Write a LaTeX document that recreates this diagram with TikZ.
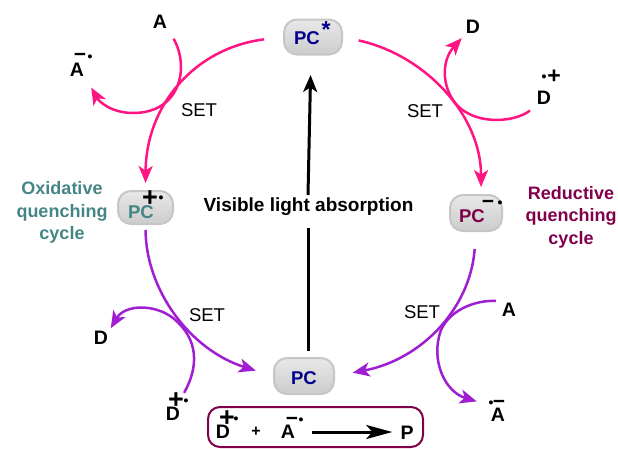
\documentclass[tikz,border=0pt]{standalone}
\usepackage{fontspec}
\setmainfont{Liberation Sans}
\usepackage{xcolor}
\usetikzlibrary{arrows.meta,positioning}
\definecolor{PCnavy}{RGB}{0,0,139}
\definecolor{PCpink}{RGB}{255,20,130}
\definecolor{PCpurple}{RGB}{160,30,210}
\definecolor{PCteal}{RGB}{70,133,133}
\definecolor{PCmaroon}{RGB}{128,0,75}
\tikzstyle{pbox}  = [rectangle, rounded corners=13pt, draw=gray!45, line width=2pt,
                     top color=gray!18, middle color=white, bottom color=gray!40,
                     minimum width=57pt, minimum height=34pt, inner sep=0pt]
\tikzstyle{Blab}  = [inner sep=0pt, font=\bfseries\fontsize{18.5}{20}\selectfont]
\tikzstyle{Bspc}  = [inner sep=2pt, font=\bfseries\fontsize{19.5}{20}\selectfont]
\tikzstyle{Bset}  = [inner sep=0pt, font=\fontsize{18.5}{20}\selectfont]
\tikzstyle{Bcyc}  = [inner sep=0pt, align=center, font=\bfseries\fontsize{18}{22.5}\selectfont]
\tikzstyle{Bplus} = [inner sep=0pt, font=\bfseries\fontsize{27}{27}\selectfont]
\tikzstyle{Bminus}= [inner sep=0pt, yshift=-1pt, font=\bfseries\fontsize{21}{21}\selectfont]
\tikzstyle{Bdot}  = [inner sep=1pt, yshift=-1.5pt, font=\bfseries\fontsize{14}{14}\selectfont]
\tikzstyle{Apink} = [->, draw=PCpink, line width=2.5pt]
\tikzstyle{Apurp} = [->, draw=PCpurple, line width=2.5pt]

\begin{document}
\begin{tikzpicture}[x=1pt, y=-1pt, >={Stealth[length=17pt,width=14pt,inset=4.5pt]}]
  \useasboundingbox (0,0) rectangle (618,448);

  \node[pbox, minimum width=58pt, minimum height=35pt] (pcs) at (313,37) {};
  \node[pbox, minimum width=55pt, minimum height=33pt] (pcox) at (145.5,207.5) {};
  \node[pbox, minimum width=52pt, minimum height=36pt] (pcred) at (476,213) {};
  \node[pbox, minimum width=60pt, minimum height=36pt] (pcg) at (304,376) {};
  \node[Blab, text=PCnavy] (pcstxt) at (307,38) {PC};
  \node[Blab, text=PCnavy, font=\bfseries\fontsize{23}{23}\selectfont] (pcstar) at (326,30) {*};
  \node[Blab, text=PCteal] (pcoxtxt) at (141,212) {PC};
  \node[Blab, text=PCmaroon] (pcredtxt) at (472,216) {PC};
  \node[Blab, text=PCnavy] (pcgtxt) at (304,378) {PC};
  \node[Bplus] (pcoxp) at (150,199) {+};
  \node[Bdot] (pcoxd) at (161,198) {•};
  \node[Bminus] (pcredm) at (488,203) {−};
  \node[Bdot] (pcredd) at (500,203) {•};

  \node[Bspc] (atop) at (160,22) {A};
  \node[Bspc] (arad) at (77,70) {A};
  \node[Bminus] (aradm) at (80,56) {−};
  \node[Bdot] (aradd) at (90,57) {•};
  \node[Bspc] (dtop) at (473,27) {D};
  \node[Bspc] (drad) at (544,98) {D};
  \node[Bdot] (dradd) at (544,77) {•};
  \node[Bplus, font=\bfseries\fontsize{23}{23}\selectfont] (dradp) at (554,77) {+};
  \node[Bspc] (dlow) at (101,338) {D};
  \node[Bspc] (dlrad) at (173,414) {D};
  \node[Bplus] (dlradp) at (176,401) {+};
  \node[Bdot] (dlradd) at (186,401) {•};
  \node[Bspc] (alow) at (509,310) {A};
  \node[Bspc] (alrad) at (498,415) {A};
  \node[Bdot] (alradd) at (491,403) {•};
  \node[Bminus] (alradm) at (499,403) {−};

  \node[Bset] (set1) at (199,110) {SET};
  \node[Bset] (set2) at (425,111) {SET};
  \node[Bset] (set3) at (207,315) {SET};
  \node[Bset] (set4) at (422,312) {SET};
  \node[Blab, font=\bfseries\fontsize{19}{20}\selectfont] (vis) at (308.5,207) {Visible light absorption};
  \node[Bcyc, text=PCteal] (oxi) at (62,212.5) {Oxidative\\quenching\\cycle};
  \node[Bcyc, text=PCmaroon] (red) at (571,217) {Reductive\\quenching\\cycle};

  \node[rectangle, rounded corners=12pt, draw=PCmaroon, line width=2pt,
        minimum width=215pt, minimum height=40pt] (box) at (315.5,427) {};
  \node[Bspc] (bd) at (223,432) {D};
  \node[Bplus] (bdp) at (227,419) {+};
  \node[Bdot] (bdd) at (236,419) {•};
  \node[Blab, font=\bfseries\fontsize{16}{16}\selectfont] (bplus) at (256,432) {+};
  \node[Bspc] (ba) at (288,432) {A};
  \node[Bminus] (bam) at (292,420) {−};
  \node[Bdot] (bad) at (301,420) {•};
  \node[Bspc] (bp) at (407,433) {P};

  \coordinate (visb) at (308,228);
  \coordinate (vist) at (308,195);
  \coordinate (pcgt) at (308,358);
  \coordinate (pcsb) at (311,55);

  \draw[Apink, shorten <=19pt, shorten >=7pt] (pcs.west) .. controls (195,48) and (146,105) .. (pcox.north);
  \draw[Apink, shorten <=16pt, shorten >=7pt] (pcs.east) .. controls (425,55) and (481,115) .. (pcred.75);
  \draw[Apink, shorten <=9pt, shorten >=10pt] (atop.south east) .. controls (190,68) and (180,113) .. (133,113)
       .. controls (113,113) and (100,103) .. (arad.south east);
  \draw[Apink, shorten <=6pt, shorten >=3pt] (drad.south west) .. controls (515,122) and (480,125) .. (460,108)
       .. controls (442,92) and (440,62) .. (dtop.south west);
  \draw[Apurp, shorten <=5pt, shorten >=18pt] (pcox.south) .. controls (146,290) and (190,350) .. (pcg.west);
  \draw[Apurp, shorten <=17pt, shorten >=18pt] (pcred.south) .. controls (470,310) and (420,360) .. (pcg.east);
  \draw[Apurp, shorten >=1pt] (dlradp.north east) .. controls (198,368) and (200,340) .. (173,318)
       .. controls (155,304) and (125,304) .. (dlow.north east);
  \draw[Apurp, shorten <=4pt, shorten >=11pt] (alow.north west) .. controls (475,300) and (450,310) .. (441,330)
       .. controls (430,360) and (445,392) .. (alradd.west);

  \draw[line width=3pt, shorten >=7pt] (visb) -- (pcgt);
  \draw[->, line width=3pt, shorten >=20pt] (vist) -- (pcsb);
  \draw[->, line width=3pt, shorten <=15pt, shorten >=6pt, >={Stealth[length=26pt,width=14pt,inset=6pt]}] (ba.east) -- (bp.west |- ba.east);
\end{tikzpicture}
\end{document}
